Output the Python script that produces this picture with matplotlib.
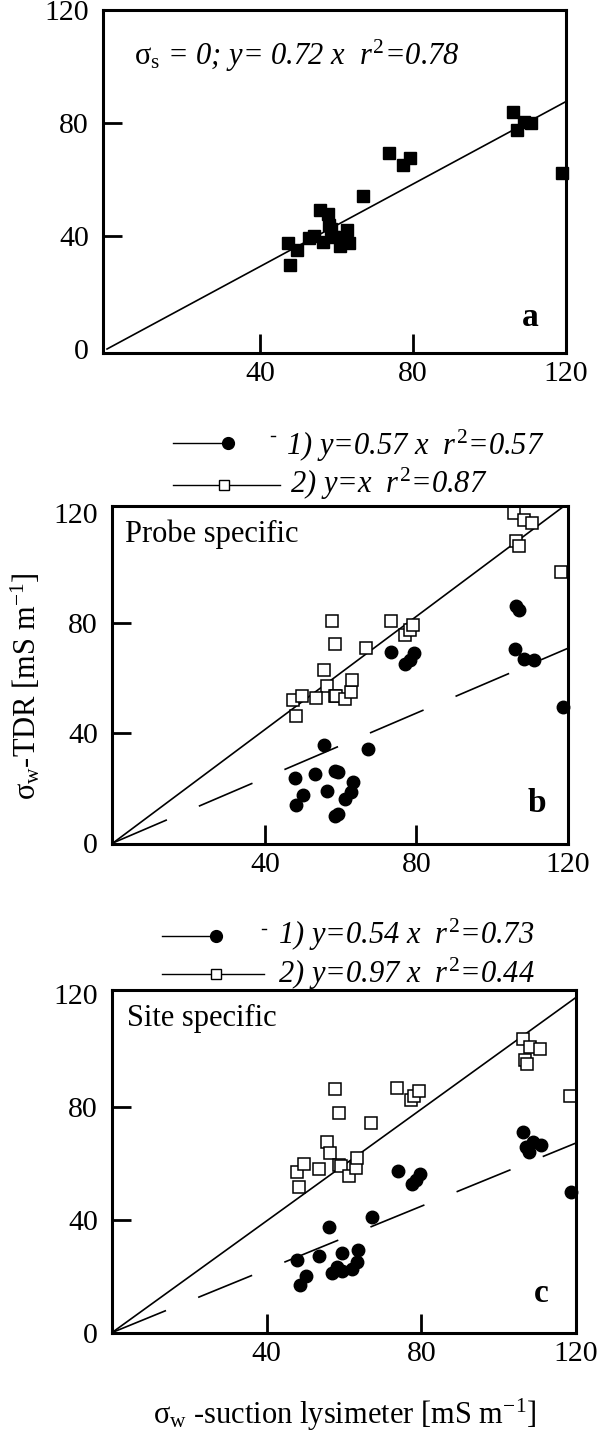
import numpy as np
import matplotlib
matplotlib.use("Agg")
import matplotlib.pyplot as plt
from matplotlib.lines import Line2D

# --- data ---------------------------------------------------------------
# (a) sigma_s = 0
a_x = [47.4, 47.9, 49.7, 52.8, 54.0, 55.6, 56.5, 57.8, 58.0, 58.5, 59.2, 61.0,
       62.0, 62.8, 63.3, 66.9, 73.7, 77.3, 79.1, 106.2, 107.1, 109.0, 110.8, 118.9]
a_y = [37.4, 29.9, 35.1, 39.2, 40.0, 49.1, 38.0, 47.9, 44.0, 42.5, 39.8, 36.3,
       39.5, 42.1, 37.4, 54.3, 69.4, 65.3, 67.7, 84.0, 77.6, 80.5, 79.9, 62.4]
a_slope = 0.73

# (b) probe specific: 1) filled circles, 2) open squares
b1_x = [106.2, 107.1, 106.1, 108.5, 111.0, 118.6, 73.4, 76.9, 78.2, 79.4, 55.5, 67.2,
        47.9, 50.0, 48.2, 53.2, 56.5, 58.6, 59.3, 58.4, 59.3, 61.1, 62.7, 63.3]
b1_y = [86.0, 84.8, 70.7, 66.9, 66.5, 49.3, 69.5, 65.1, 66.5, 68.9, 35.5, 34.0,
        23.5, 17.3, 13.7, 25.1, 18.7, 26.3, 25.7, 9.8, 10.4, 16.1, 18.5, 22.1]
b2_x = [105.8, 108.5, 110.6, 106.2, 107.1, 118.2, 57.7, 58.4, 73.4, 76.9, 78.2, 79.1,
        66.8, 55.5, 56.4, 47.5, 49.8, 48.2, 53.4, 58.4, 58.9, 61.1, 62.7, 63.1]
b2_y = [120.0, 117.4, 116.4, 109.9, 108.1, 98.7, 80.8, 72.5, 80.6, 75.6, 77.3, 79.4,
        71.0, 62.7, 57.1, 51.9, 53.5, 46.0, 52.8, 53.5, 53.4, 52.5, 54.9, 59.1]
b1_slope, b2_slope = 0.59, 1.03
b_legend = ["1) y=0.57 x  $\\mathit{r}^{2}$=0.57", "2) y=x  $\\mathit{r}^{2}$=0.87"]

# (c) site specific
c1_x = [106.3, 107.0, 107.9, 108.8, 111.0, 118.8, 74.0, 77.6, 78.7, 79.6, 67.3, 56.0,
        47.9, 50.3, 48.5, 53.5, 56.8, 58.1, 59.5, 59.5, 62.0, 63.3, 63.5]
c1_y = [71.0, 65.7, 64.0, 67.5, 66.6, 49.9, 57.4, 52.6, 54.1, 56.1, 41.0, 37.3,
        25.7, 20.2, 16.7, 27.1, 21.3, 23.2, 21.7, 28.1, 22.6, 25.2, 29.2]
c2_x = [106.2, 108.1, 110.8, 106.8, 107.4, 118.4, 57.7, 58.75, 73.6, 77.3, 78.2, 79.3,
        67.1, 55.6, 56.5, 47.9, 49.7, 48.3, 53.5, 58.6, 59.2, 61.3, 63.0, 63.3]
c2_y = [104.2, 101.1, 100.5, 96.7, 95.3, 83.7, 86.4, 77.7, 86.8, 82.3, 83.9, 85.6,
        74.4, 67.5, 63.8, 56.8, 59.6, 51.6, 58.0, 59.4, 59.0, 55.5, 58.4, 61.9]
c1_slope, c2_slope = 0.56, 0.99
c_legend = ["1) y=0.54 x  $\\mathit{r}^{2}$=0.73", "2) y=0.97 x  $\\mathit{r}^{2}$=0.44"]

ticks = [0, 40, 80, 120]

# --- style ---------------------------------------------------------------
plt.rcParams["font.family"] = ["Liberation Serif", "DejaVu Serif"]
plt.rcParams["mathtext.fontset"] = "custom"
plt.rcParams["mathtext.rm"] = "Liberation Serif"
plt.rcParams["mathtext.it"] = "Liberation Serif:italic"
plt.rcParams["mathtext.bf"] = "Liberation Serif:bold"
plt.rcParams["lines.scale_dashes"] = False

W, H = 602, 1439
fig = plt.figure(figsize=(W / 100, H / 100), dpi=100)


def box(l, r, t, b):
    return [l / W, 1 - b / H, (r - l) / W, (b - t) / H]


def fx(px):
    return px / W


def fy(py):
    return 1 - py / H


def setup(ax, xlim, ylim):
    ax.set_xlim(*xlim)
    ax.set_ylim(*ylim)
    for s in ax.spines.values():
        s.set_linewidth(2.2)
    ax.set_xticks(ticks)
    ax.set_yticks(ticks)
    ax.set_xticklabels(["", "40", "80", "120"])
    ax.set_yticklabels(["0", "40", "80", "120"])
    ax.tick_params(direction="in", length=14, width=2, labelsize=21.5)
    ax.tick_params(axis="x", pad=6)
    ax.tick_params(axis="y", pad=10)
    for t in ax.xaxis.get_major_ticks()[::3] + ax.yaxis.get_major_ticks()[::3]:
        t.tick1line.set_visible(False)


# panel a
ax_a = fig.add_axes(box(103, 566, 10, 352.6))
setup(ax_a, (-1.05, 120), (-1.27, 119.5))
xa = np.array([0, 120])
ax_a.plot(xa, a_slope * xa, color="k", lw=1.2)
ax_a.plot(a_x, a_y, ls="none", marker="s", ms=9.3, color="k", clip_on=False)
fig.text(fx(134), fy(65), "$\\mathrm{σ}_\\mathrm{s}$ = 0; y= 0.72 x  $\\mathit{r}^{2}$=0.78",
         fontsize=22, style="italic", ha="left", va="baseline")
fig.text(fx(530), fy(318), "a", fontsize=24, weight="bold", ha="center", va="center")

# panel b
ax_b = fig.add_axes(box(112, 568, 505.9, 843.7))
setup(ax_b, (-0.34, 118.6), (-0.33, 122.6))
xb = np.array([0, 125])
ax_b.plot(xb, b2_slope * xb, color="k", lw=1.2)
ax_b.plot(xb, b1_slope * xb, color="k", lw=1.2, dashes=(42, 25))
ax_b.plot(b2_x, b2_y, ls="none", marker="s", ms=8.3, mfc="white", mec="k", mew=1.1, clip_on=False)
ax_b.plot(b1_x, b1_y, ls="none", marker="o", ms=9, color="k", clip_on=False)
fig.text(fx(125), fy(542), "Probe specific", fontsize=22, ha="left", va="baseline")
fig.text(fx(537), fy(804), "b", fontsize=24, weight="bold", ha="center", va="center")

# panel c
ax_c = fig.add_axes(box(112, 576, 989.8, 1332.6))
setup(ax_c, (0.1, 119.8), (0, 121.5))
xc = np.array([0, 125])
ax_c.plot(xc, c2_slope * xc, color="k", lw=1.2)
ax_c.plot(xc, c1_slope * xc, color="k", lw=1.2, dashes=(42, 25))
ax_c.plot(c2_x, c2_y, ls="none", marker="s", ms=8.3, mfc="white", mec="k", mew=1.1, clip_on=False)
ax_c.plot(c1_x, c1_y, ls="none", marker="o", ms=9, color="k", clip_on=False)
fig.text(fx(127), fy(1026), "Site specific", fontsize=22, ha="left", va="baseline")
fig.text(fx(541), fy(1293), "c", fontsize=24, weight="bold", ha="center", va="center")


# legends above b and c
def legend(x0, x1, y1, mx1, dash_x, dash_y, tx1, base1, x2, y2, mx2, tx2, base2, labels):
    fig.add_artist(Line2D([fx(x0), fx(x1)], [fy(y1), fy(y1)], color="k", lw=1))
    fig.add_artist(Line2D([fx(mx1)], [fy(y1)], marker="o", ms=8.5, color="k", ls="none"))
    fig.add_artist(Line2D([fx(dash_x - 2), fx(dash_x + 2)], [fy(dash_y), fy(dash_y)], color="k", lw=1))
    fig.text(fx(tx1), fy(base1), labels[0], fontsize=22, style="italic", va="baseline")
    fig.add_artist(Line2D([fx(x0), fx(x2)], [fy(y2), fy(y2)], color="k", lw=1))
    fig.add_artist(Line2D([fx(mx2)], [fy(y2)], marker="s", ms=7.5, mfc="white", mec="k",
                          mew=1, ls="none"))
    fig.text(fx(tx2), fy(base2), labels[1], fontsize=22, style="italic", va="baseline")


legend(172.5, 231, 442.8, 228, 273, 436.2, 286, 455, 280, 484.8, 224.4, 290, 493.5, b_legend)
legend(162, 219, 935.9, 216, 263.5, 928.7, 278, 944, 264, 973.6, 216, 278, 983.5, c_legend)

# axis labels
fig.text(fx(26), fy(686), "$\\mathrm{σ}_\\mathrm{w}$-TDR [mS m$^{\\mathrm{-1}}$]",
         fontsize=22, rotation=90, ha="center", va="center")
fig.text(fx(345), fy(1415), "$\\mathrm{σ}_\\mathrm{w}$ -suction lysimeter [mS m$^{\\mathrm{-1}}$]",
         fontsize=22, ha="center", va="center")

fig.savefig("out.png", dpi=100, facecolor="white")
